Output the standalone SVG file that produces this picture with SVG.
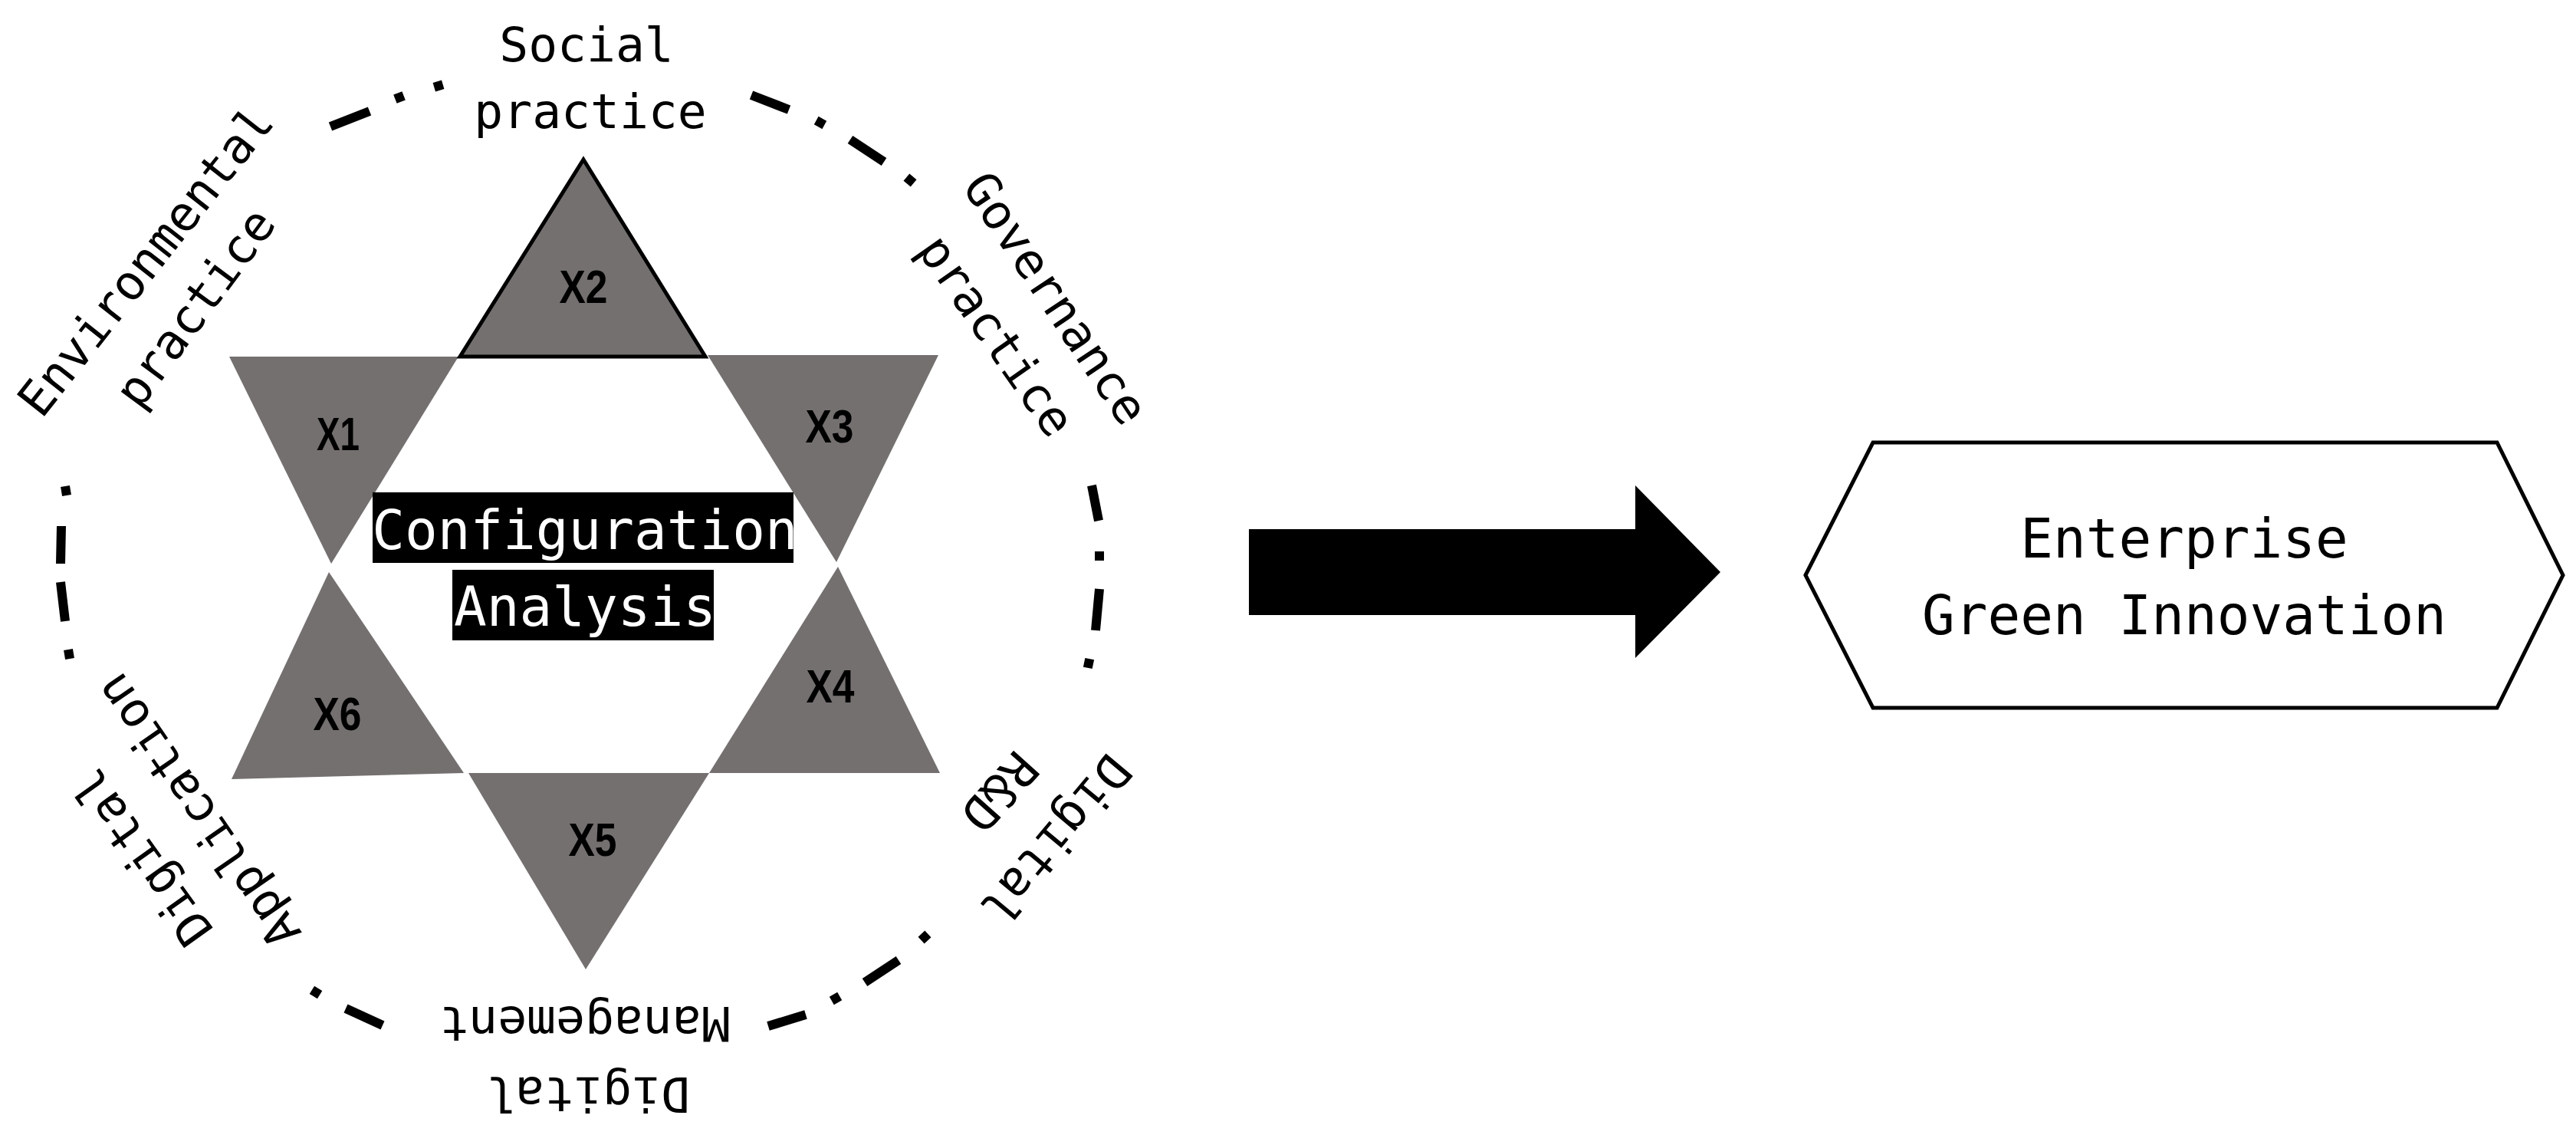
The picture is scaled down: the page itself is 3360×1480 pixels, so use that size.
<svg xmlns="http://www.w3.org/2000/svg" width="3360" height="1480" viewBox="0 0 3360 1480">
<style>
.tri{fill:#757070}
.xl{font-family:"Liberation Sans Narrow","Liberation Sans",Arial,sans-serif;font-weight:bold;font-size:62px;fill:#000;text-anchor:middle}
.lab{font-family:"DejaVu Sans Mono","Liberation Mono",monospace;font-size:63px;fill:#000;text-anchor:middle}
.big{font-family:"DejaVu Sans Mono","Liberation Mono",monospace;font-size:71px;text-anchor:middle}
.ring line{stroke:#000;stroke-width:12;fill:none;stroke-linecap:butt}
</style>
<rect width="3360" height="1480" fill="#fff"/>

<g id="ring" class="ring">
<line x1="431" y1="165" x2="482" y2="145"/>
<line x1="515.4" y1="129.2" x2="526.6" y2="124.8"/>
<line x1="566.3" y1="113.7" x2="577.7" y2="110.3"/>
<line x1="980" y1="124" x2="1029" y2="143"/>
<line x1="1064.7" y1="157.1" x2="1075.3" y2="162.9"/>
<line x1="1109" y1="182" x2="1153" y2="211"/>
<line x1="1182.4" y1="231.1" x2="1191.6" y2="238.9"/>
<line x1="1424" y1="633" x2="1433" y2="679"/>
<line x1="1434" y1="719" x2="1434" y2="731"/>
<line x1="1434" y1="768" x2="1429" y2="822"/>
<line x1="1421.2" y1="859.1" x2="1418.8" y2="870.9"/>
<line x1="1210.4" y1="1217.9" x2="1201.6" y2="1226.1"/>
<line x1="1172" y1="1252" x2="1128" y2="1281"/>
<line x1="1095.2" y1="1299" x2="1084.8" y2="1305"/>
<line x1="1051" y1="1323" x2="1002" y2="1338"/>
<line x1="499" y1="1337" x2="451" y2="1315"/>
<line x1="417.1" y1="1297.2" x2="406.9" y2="1290.8"/>
<line x1="91" y1="859" x2="89" y2="847"/>
<line x1="85" y1="810" x2="79" y2="759"/>
<line x1="79" y1="735" x2="80" y2="686"/>
<line x1="87" y1="646" x2="85" y2="634"/>
</g>

<g id="ring-labels">
<g id="label-social">
<text class="lab" transform="translate(765,80)">Social</text>
<text class="lab" transform="translate(770,167)">practice</text>
</g>
<g id="label-governance">
<text class="lab" transform="translate(1359,401) rotate(56.3)">Governance</text>
<text class="lab" transform="translate(1282,450) rotate(55)">practice</text>
</g>
<g id="label-rd">
<text class="lab" transform="translate(1360,1081) rotate(129.9)">Digital</text>
<text class="lab" transform="translate(1287,1018) rotate(131.8)">R&amp;D</text>
</g>
<g id="label-management">
<text class="lab" transform="translate(767,1405) rotate(180)">Digital</text>
<text class="lab" transform="translate(763,1313) rotate(180)">Management</text>
</g>
<g id="label-application">
<text class="lab" transform="translate(203,1105) rotate(234.5)">Digital</text>
<text class="lab" transform="translate(276,1045) rotate(235.4)">Application</text>
</g>
<g id="label-environmental">
<text class="lab" transform="translate(207,354) rotate(-51.7)">Environmental</text>
<text class="lab" transform="translate(272,414) rotate(-53.6)">practice</text>
</g>
</g>

<g id="star">
<g id="x1"><polygon class="tri" points="299,465 598,465 432,735"/><text class="xl" x="441" y="587" textLength="56" lengthAdjust="spacingAndGlyphs">X1</text></g>
<g id="x2"><polygon class="tri" points="761,208 920,465 600,465" stroke="#000" stroke-width="5" stroke-linejoin="miter"/><text class="xl" x="761" y="395" textLength="63" lengthAdjust="spacingAndGlyphs">X2</text></g>
<g id="x3"><polygon class="tri" points="923,463 1224,463 1091,733"/><text class="xl" x="1082" y="577" textLength="63" lengthAdjust="spacingAndGlyphs">X3</text></g>
<g id="x4"><polygon class="tri" points="1093,739 1226,1008 925,1008"/><text class="xl" x="1083" y="916" textLength="63" lengthAdjust="spacingAndGlyphs">X4</text></g>
<g id="x5"><polygon class="tri" points="611,1008 925,1008 764,1264"/><text class="xl" x="773" y="1116" textLength="63" lengthAdjust="spacingAndGlyphs">X5</text></g>
<g id="x6"><polygon class="tri" points="429,746 605,1008 302,1016"/><text class="xl" x="440" y="952" textLength="63" lengthAdjust="spacingAndGlyphs">X6</text></g>
</g>

<g id="config-analysis">
<rect x="486" y="642" width="549" height="92" fill="#000"/>
<rect x="590" y="743" width="341" height="92" fill="#000"/>
<text class="big" x="763" y="716" fill="#fff">Configuration</text>
<text class="big" x="763" y="816" fill="#fff">Analysis</text>
</g>

<g id="connectors">
<polygon points="1629,690 2133,690 2133,633 2244,746 2133,858 2133,802 1629,802" fill="#000"/>
</g>

<g id="green-innovation">
<polygon points="2355,750 2443,577 3257,577 3343,750 3257,923 2443,923" fill="#fff" stroke="#000" stroke-width="5"/>
<text class="big" x="2849" y="727" fill="#000">Enterprise</text>
<text class="big" x="2849" y="827" fill="#000">Green Innovation</text>
</g>
</svg>
